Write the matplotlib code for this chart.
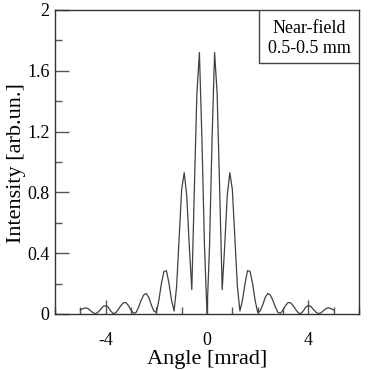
import matplotlib
matplotlib.use('Agg')
import matplotlib.pyplot as plt
from matplotlib.ticker import MultipleLocator
from matplotlib.patches import Rectangle

plt.rcParams['font.family'] = 'Liberation Serif'
plt.rcParams['axes.unicode_minus'] = False  # plain hyphen for "-4"

# Angle [mrad] sampled every 0.1 from -5 to 5
angle = [round(-5 + 0.1 * i, 1) for i in range(101)]

# Intensity (left half, centre, right half)
intensity_right = [0.0, 0.45, 1.15, 1.72, 1.45, 0.82, 0.16,
                   0.45, 0.78, 0.93, 0.82, 0.50, 0.18, 0.02,
                   0.09, 0.20, 0.285, 0.28, 0.20, 0.09, 0.01,
                   0.02, 0.06, 0.11, 0.135, 0.125, 0.09, 0.045, 0.01, 0.005,
                   0.025, 0.055, 0.075, 0.074, 0.055, 0.03, 0.008, 0.002,
                   0.02, 0.045, 0.055, 0.05, 0.03, 0.012, 0.002,
                   0.008, 0.022, 0.036, 0.04, 0.035, 0.026]
intensity_left = [0.026, 0.035, 0.04, 0.036, 0.022, 0.008,
                  0.002, 0.012, 0.03, 0.05, 0.055, 0.045, 0.02,
                  0.002, 0.008, 0.03, 0.055, 0.074, 0.075, 0.055, 0.025,
                  0.005, 0.01, 0.045, 0.09, 0.125, 0.135, 0.11, 0.06, 0.02,
                  0.01, 0.09, 0.20, 0.28, 0.285, 0.20, 0.09,
                  0.02, 0.18, 0.50, 0.82, 0.93, 0.78, 0.45,
                  0.16, 0.82, 1.45, 1.72, 1.15, 0.45]
intensity = intensity_left + intensity_right

y_ticks = [0, 0.4, 0.8, 1.2, 1.6, 2]
y_ticklabels = ['0', '0.4', '0.8', '1.2', '1.6', '2']
legend_lines = ['Near-field', '0.5-0.5 mm']

fig = plt.figure(figsize=(3.68, 3.70), dpi=100)
ax = fig.add_axes([0.1495, 0.1514, 0.826, 0.8216])

ax.plot(angle, intensity, color='#404040', lw=0.9)

ax.set_xlim(-6, 6)
ax.set_ylim(0, 2)
ax.xaxis.set_major_locator(MultipleLocator(4))
ax.xaxis.set_minor_locator(MultipleLocator(1))
ax.yaxis.set_minor_locator(MultipleLocator(0.2))
ax.set_yticks(y_ticks)
ax.set_yticklabels(y_ticklabels)

ax.tick_params(axis='both', which='both', direction='in', top=False, right=False,
               color='#555555', labelsize=13)
ax.tick_params(axis='both', which='major', length=10, width=1)
ax.tick_params(axis='both', which='minor', length=5, width=1)
ax.tick_params(axis='x', which='major', pad=13)
ax.tick_params(axis='y', which='major', pad=4)

for pos in ['top', 'bottom', 'left', 'right']:
    ax.spines[pos].set_color('#333333')
    ax.spines[pos].set_linewidth(1)

ax.set_xlabel('Angle [mrad]', fontsize=16)
ax.set_ylabel('Intensity [arb.un.]', fontsize=16)
ax.xaxis.set_label_coords(0.5, -0.118)
ax.yaxis.set_label_coords(-0.097, 0.495)

# legend-like box in the top right corner
ax.add_patch(Rectangle((0.671, 0.826), 0.329, 0.174, transform=ax.transAxes,
                       facecolor='white', edgecolor='#444444', lw=1, zorder=5))
ax.text(0.8355, 0.907, '\n'.join(legend_lines), transform=ax.transAxes,
        ha='center', va='center', multialignment='center', fontsize=13,
        linespacing=1.2, zorder=6)

plt.savefig('out.png', dpi=100)
